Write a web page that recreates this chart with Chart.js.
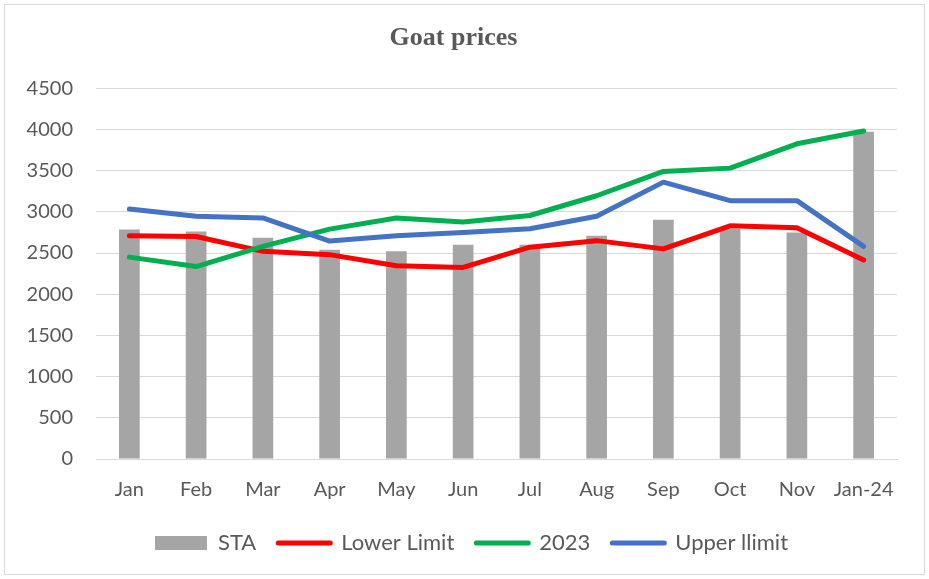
<!DOCTYPE html>
<html>
<head>
<meta charset="utf-8">
<script src="https://cdn.jsdelivr.net/npm/chart.js@4/dist/chart.umd.min.js"></script>
<style>
  html, body { margin: 0; padding: 0; background: #fff; }
  #wrap { width: 929px; height: 579px; position: relative; }
</style>
</head>
<body>
<div id="wrap"><canvas id="c" width="929" height="579"></canvas></div>
<script>
const categories = ["Jan","Feb","Mar","Apr","May","Jun","Jul","Aug","Sep","Oct","Nov","Jan-24"];
const staValues   = [2785, 2760, 2685, 2540, 2520, 2600, 2600, 2710, 2905, 2790, 2750, 3970];
const lowerLimit  = [2710, 2700, 2520, 2480, 2345, 2325, 2570, 2650, 2550, 2830, 2805, 2415];
const values2023  = [2450, 2335, 2580, 2790, 2925, 2875, 2955, 3195, 3490, 3530, 3825, 3980];
const upperLimit  = [3035, 2945, 2925, 2645, 2710, 2750, 2795, 2945, 3360, 3135, 3135, 2580];
const yTicks = [0, 500, 1000, 1500, 2000, 2500, 3000, 3500, 4000, 4500];

const textColor = '#595959';
const gridColor = '#d9d9d9';
const sansFont = 'Lato, "Open Sans", sans-serif';

const borderPlugin = {
  id: 'frame',
  afterLayout(chart) {
    if (chart.legend) { chart.legend.left += 18; chart.legend.right += 18; }
  },
  beforeDraw(chart) {
    const ctx = chart.ctx;
    ctx.save();
    ctx.fillStyle = '#fff';
    ctx.fillRect(0, 0, chart.width, chart.height);
    ctx.strokeStyle = '#d9d9d9';
    ctx.lineWidth = 1;
    ctx.strokeRect(4.5, 4.5, 920, 570);
    ctx.restore();
  }
};

new Chart(document.getElementById('c'), {
  data: {
    labels: categories,
    datasets: [
      { type: 'bar', label: 'STA', data: staValues, backgroundColor: '#a5a5a5',
        barPercentage: 0.62, categoryPercentage: 0.5, order: 10 },
      { type: 'line', label: 'Lower Limit', data: lowerLimit, borderColor: '#ff0000', backgroundColor: '#ff0000',
        borderWidth: 5, pointRadius: 0, tension: 0, borderCapStyle: 'round', borderJoinStyle: 'round', order: 3 },
      { type: 'line', label: '2023', data: values2023, borderColor: '#00b050', backgroundColor: '#00b050',
        borderWidth: 5, pointRadius: 0, tension: 0, borderCapStyle: 'round', borderJoinStyle: 'round', order: 2 },
      { type: 'line', label: 'Upper llimit', data: upperLimit, borderColor: '#4472c4', backgroundColor: '#4472c4',
        borderWidth: 5, pointRadius: 0, tension: 0, borderCapStyle: 'round', borderJoinStyle: 'round', order: 1 }
    ]
  },
  options: {
    responsive: false,
    animation: false,
    devicePixelRatio: 1,
    layout: { padding: { left: 10, right: 32, top: 0, bottom: 15 } },
    plugins: {
      title: {
        display: true, text: 'Goat prices', color: textColor,
        font: { family: '"Liberation Serif", "Times New Roman", serif', size: 26, weight: 'bold' },
        padding: { top: 23, bottom: 34 }
      },
      legend: {
        position: 'bottom',
        labels: {
          color: textColor,
          font: { family: sansFont, size: 22 },
          usePointStyle: true,
          pointStyleWidth: 52,
          boxHeight: 14,
          padding: 22,
          generateLabels(chart) {
            return chart.data.datasets.map((ds, i) => ({
              text: ds.label,
              fillStyle: ds.backgroundColor,
              strokeStyle: ds.type === 'bar' ? ds.backgroundColor : ds.borderColor,
              lineWidth: ds.type === 'bar' ? 0 : 5,
              lineCap: 'round',
              pointStyle: ds.type === 'bar' ? 'rect' : 'line',
              fontColor: textColor,
              hidden: false,
              datasetIndex: i
            }));
          }
        }
      },
      tooltip: { enabled: false }
    },
    scales: {
      x: {
        grid: { display: false, drawTicks: false },
        border: { display: true, color: gridColor, width: 1 },
        ticks: { color: textColor, font: { family: sansFont, size: 20 }, padding: 19, maxRotation: 0 },
        afterFit(scale) { scale.height = 51; }
      },
      y: {
        min: 0, max: 4500,
        afterBuildTicks(scale) { scale.ticks = yTicks.map(v => ({ value: v })); },
        grid: { color: gridColor, lineWidth: 1, drawTicks: false },
        border: { display: false },
        ticks: { color: textColor, font: { family: sansFont, size: 20 }, padding: 23,
                 callback: (v) => String(v) },
        afterFit(scale) { scale.width = 86; }
      }
    }
  },
  plugins: [borderPlugin]
});
</script>
</body>
</html>
